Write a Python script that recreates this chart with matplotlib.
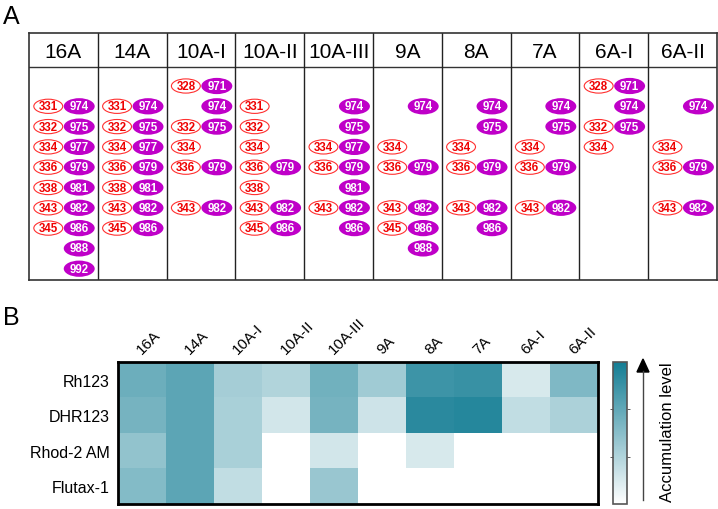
import numpy as np
import matplotlib.pyplot as plt
from matplotlib.patches import Ellipse
from matplotlib.colors import LinearSegmentedColormap
from matplotlib.transforms import ScaledTranslation

plt.rcParams['font.family'] = ['Liberation Sans', 'DejaVu Sans']

# Panel A: residues present in each structure
groups = ['16A', '14A', '10A-I', '10A-II', '10A-III', '9A', '8A', '7A', '6A-I', '6A-II']
red_res = [
    [331, 332, 334, 336, 338, 343, 345],
    [331, 332, 334, 336, 338, 343, 345],
    [328, 332, 334, 336, 343],
    [331, 332, 334, 336, 338, 343, 345],
    [334, 336, 343],
    [334, 336, 343, 345],
    [334, 336, 343],
    [334, 336, 343],
    [328, 332, 334],
    [334, 336, 343],
]
purple_res = [
    [974, 975, 977, 979, 981, 982, 986, 988, 992],
    [974, 975, 977, 979, 981, 982, 986],
    [971, 974, 975, 979, 982],
    [979, 982, 986],
    [974, 975, 977, 979, 981, 982, 986],
    [974, 979, 982, 986, 988],
    [974, 975, 979, 982, 986],
    [974, 975, 979, 982],
    [971, 974, 975],
    [974, 979, 982],
]
red_rows = [328, 331, 332, 334, 336, 338, 343, 345]
purple_rows = [971, 974, 975, 977, 979, 981, 982, 986, 988, 992]

# Panel B: accumulation level (0 = none, 1 = max)
dyes = ['Rh123', 'DHR123', 'Rhod-2 AM', 'Flutax-1']
levels = np.array([
    [0.62, 0.69, 0.38, 0.33, 0.60, 0.40, 0.82, 0.84, 0.17, 0.54],
    [0.58, 0.69, 0.36, 0.19, 0.58, 0.21, 0.90, 0.92, 0.26, 0.35],
    [0.46, 0.69, 0.36, 0.00, 0.19, 0.00, 0.17, 0.00, 0.00, 0.00],
    [0.52, 0.69, 0.26, 0.00, 0.43, 0.00, 0.00, 0.00, 0.00, 0.00],
])

W, H = 718, 510
fig = plt.figure(figsize=(W / 100, H / 100), dpi=100)

def fx(px): return px / W
def fy(px): return 1 - px / H

# ---- panel A
top, bot, left, right = 34, 281, 29, 717
axA = fig.add_axes([fx(left), fy(bot), fx(right - left), (bot - top) / H])
row_h = 20.3
ymax = (bot - top) / row_h
head = 34 / row_h
first = 53 / row_h
axA.set_xlim(0, len(groups))
axA.set_ylim(ymax, 0)
axA.set_xticks([])
axA.set_yticks([])
for s in axA.spines.values():
    s.set_linewidth(1.2)
    s.set_color('#333333')
axA.axhline(head, color='#333333', lw=1.0)
for i in range(1, len(groups)):
    axA.axvline(i, color='#222222', lw=1.0)

for i, g in enumerate(groups):
    axA.text(i + 0.5, head / 2 + 0.05, g, ha='center', va='center', fontsize=15)
    for r in red_res[i]:
        y = first + red_rows.index(r)
        axA.add_patch(Ellipse((i + 0.28, y), 0.42, 0.70, facecolor='white',
                              edgecolor='#ff3030', lw=0.8))
        axA.text(i + 0.28, y, str(r), ha='center', va='center', fontsize=8.3,
                 color='#ee0000', fontweight='bold')
    for r in purple_res[i]:
        y = first + purple_rows.index(r)
        axA.add_patch(Ellipse((i + 0.73, y), 0.45, 0.80, facecolor='#bf00c8',
                              edgecolor='none'))
        axA.text(i + 0.73, y, str(r), ha='center', va='center', fontsize=8.3,
                 color='white', fontweight='bold')

fig.text(fx(3), fy(17), 'A', fontsize=18, va='center', ha='left')
fig.text(fx(3), fy(318), 'B', fontsize=18, va='center', ha='left')

# ---- panel B heatmap
cmap = LinearSegmentedColormap.from_list('acc', ['#ffffff', '#137d94'])
axB = fig.add_axes([fx(118), fy(505), fx(598 - 118), (505 - 363) / H])
im = axB.imshow(levels, cmap=cmap, vmin=0, vmax=1, aspect='auto')
axB.set_yticks(range(len(dyes)))
axB.set_yticklabels(dyes, fontsize=11.5)
axB.set_xticks(range(len(groups)))
axB.set_xticklabels(groups, fontsize=11, rotation=45, ha='left',
                    rotation_mode='anchor')
axB.xaxis.tick_top()
axB.tick_params(length=0, pad=6)
axB.tick_params(axis='x', pad=4)
shift = ScaledTranslation(0.02, 0, fig.dpi_scale_trans)
for lbl in axB.get_xticklabels():
    lbl.set_transform(lbl.get_transform() + shift)
for s in axB.spines.values():
    s.set_linewidth(2)
    s.set_color('black')

# colorbar
cax = fig.add_axes([fx(613), fy(505), fx(14), (505 - 363) / H])
cb = fig.colorbar(im, cax=cax)
cb.set_ticks([1 / 3, 2 / 3])
cb.ax.tick_params(length=2, width=0.6, labelright=False, left=True, color='#444444')
cb.outline.set_edgecolor('#555555')
cb.outline.set_linewidth(1.2)

fig.add_artist(plt.Line2D([fx(643), fx(643)], [fy(501), fy(372)], color='#444444', lw=1.0))
fig.patches.append(plt.Polygon([[fx(637), fy(373)], [fx(649), fy(373)], [fx(643), fy(360)]],
                               closed=True, color='black', transform=fig.transFigure, figure=fig))
fig.text(fx(667), fy(432), 'Accumulation level', rotation=90, ha='center', va='center',
         fontsize=12)

fig.savefig('out.png', dpi=100)
